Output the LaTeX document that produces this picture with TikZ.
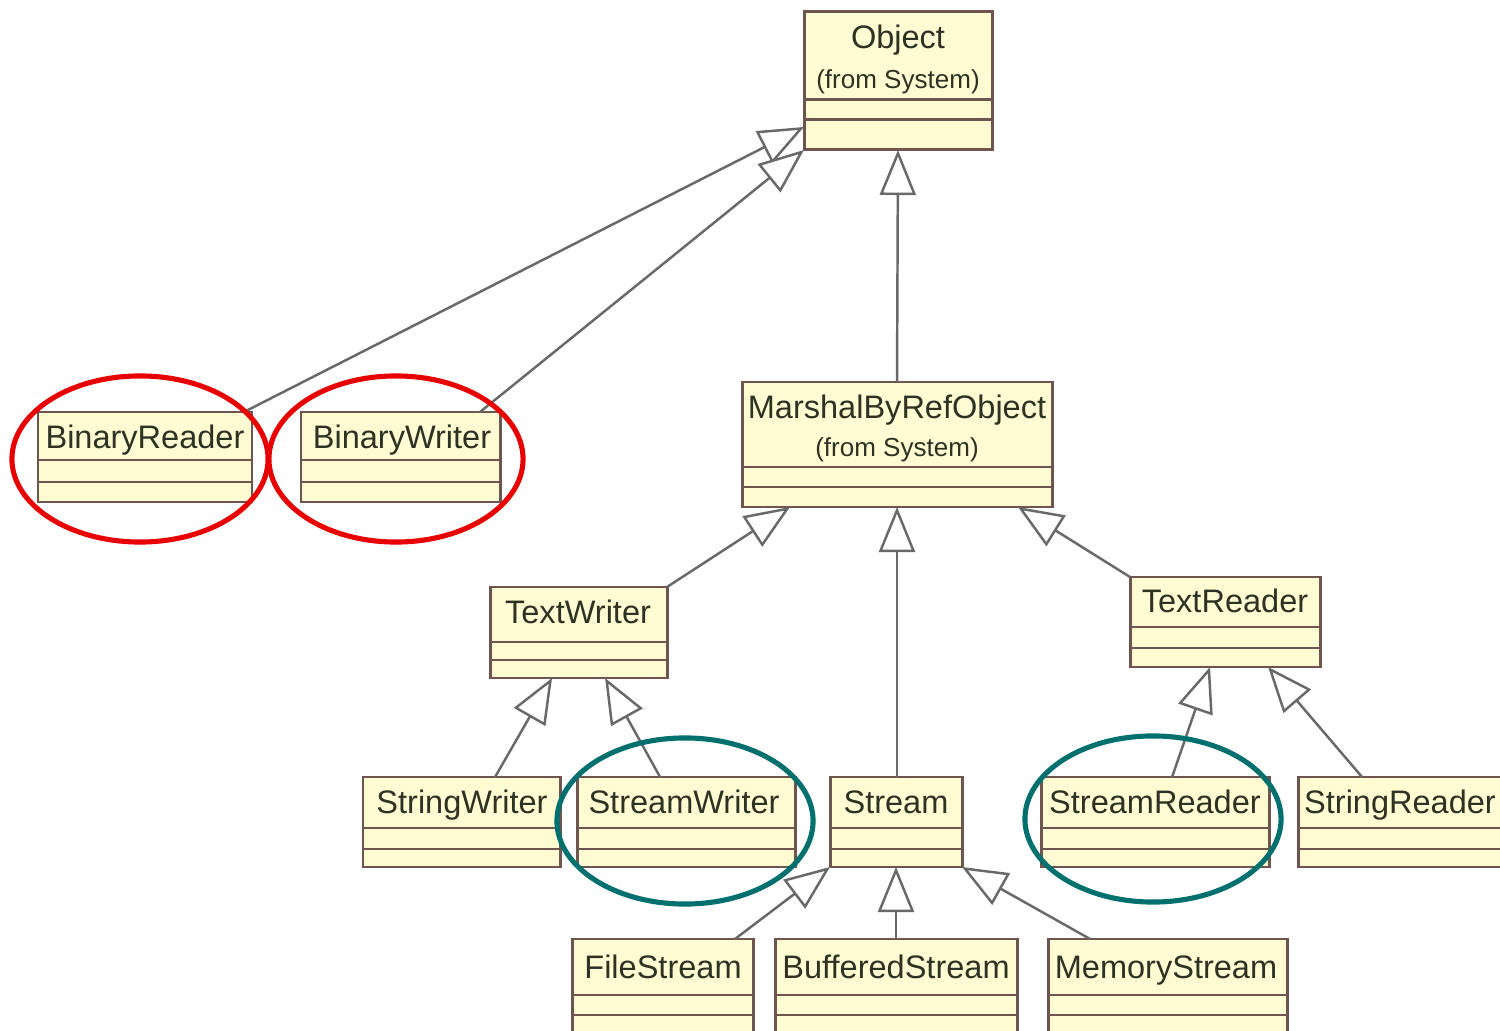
\documentclass[tikz,border=0pt]{standalone}
\usepackage{fontspec}
\setmainfont{Liberation Sans}
\usetikzlibrary{arrows.meta,shapes.geometric}
\definecolor{boxfill}{RGB}{255,251,210}
\definecolor{boxline}{RGB}{110,85,80}
\definecolor{conline}{RGB}{105,105,105}
\definecolor{txtcol}{RGB}{45,50,35}
\definecolor{ringred}{RGB}{232,0,0}
\definecolor{ringteal}{RGB}{0,112,110}
\tikzset{
  clsbox/.style={draw=boxline, fill=boxfill, line width=0.85pt, inner sep=0pt, outer sep=0pt, rectangle},
  divline/.style={draw=boxline, line width=0.85pt},
  clsname/.style={text=txtcol, inner sep=0pt, text height=0.72em, text depth=0.21em, font=\fontsize{9.25}{10}\selectfont},
  clsfrom/.style={text=txtcol, inner sep=0pt, text height=0.72em, text depth=0.21em, font=\fontsize{7.4}{8}\selectfont},
  inh/.style={draw=conline, line width=0.7pt, -{Triangle[open, length=0.45cm, width=0.36cm, fill=white]}},
  redring/.style={draw=ringred, line width=1.45pt, ellipse, inner sep=0pt, minimum width=2.56cm, minimum height=1.66cm},
  tealring/.style={draw=ringteal, line width=1.45pt, ellipse, inner sep=0pt, minimum width=2.56cm, minimum height=1.66cm},
}
% #1 name, #2 left, #3 top, #4 right, #5 bottom, #6 divider1, #7 divider2
\newcommand\umlclass[7]{%
  \node[clsbox, anchor=north west, minimum width={(#4-#2)*0.01cm}, minimum height={(#5-#3)*0.01cm}] (#1) at (#2,#3) {};
  \draw[divline] (#1.west |- 0,#6) -- (#1.east |- 0,#6);
  \draw[divline] (#1.west |- 0,#7) -- (#1.east |- 0,#7);
}
\begin{document}
\begin{tikzpicture}[x=0.01cm, y=-0.01cm]
\useasboundingbox (0,0) rectangle (1500,1031);
\fill[white] (0,0) rectangle (1500,1031);

% classes
\umlclass{obj}{804}{12}{992}{150}{100}{120}
\node[clsname] (objt) at (898,40) {Object};
\node[clsfrom] (objf) at (898,80) {(from System)};

\umlclass{mbr}{742}{382}{1052}{507}{467}{487}
\node[clsname] (mbrt) at (897,410) {MarshalByRefObject};
\node[clsfrom] (mbrf) at (897,448) {(from System)};

\umlclass{br}{38}{412}{252}{502}{460}{482}
\node[clsname] (brt) at (145,440) {BinaryReader};
\umlclass{bw}{301}{412}{500}{502}{460}{482}
\node[clsname] (bwt) at (402,440) {BinaryWriter};

\umlclass{tw}{490}{587}{667}{678}{642}{660}
\node[clsname] (twt) at (578,615) {TextWriter};
\umlclass{tr}{1130}{577}{1320}{667}{627}{648}
\node[clsname] (trt) at (1225,604) {TextReader};

\umlclass{sw}{363}{777}{560}{867}{828}{849}
\node[clsname] (swt) at (462,805) {StringWriter};
\umlclass{stw}{577}{777}{795}{867}{828}{849}
\node[clsname] (stwt) at (684,805) {StreamWriter};
\umlclass{st}{830}{777}{962}{867}{828}{849}
\node[clsname] (stt) at (896,805) {Stream};
\umlclass{sr}{1041}{777}{1269}{867}{828}{849}
\node[clsname] (srt) at (1155,805) {StreamReader};
\umlclass{str}{1298}{777}{1504}{867}{828}{849}
\node[clsname] (strt) at (1400,805) {StringReader};

\umlclass{fs}{572}{939}{753}{1040}{995}{1015}
\node[clsname] (fst) at (663,970) {FileStream};
\umlclass{bs}{775}{939}{1017}{1040}{995}{1015}
\node[clsname] (bst) at (896,970) {BufferedStream};
\umlclass{ms}{1048}{939}{1287}{1040}{995}{1015}
\node[clsname] (mst) at (1166,970) {MemoryStream};

% inheritance connectors
\draw[inh] ([xshift=-0.08cm]br.north east) -- ([yshift=0.23cm]obj.south west);
\draw[inh] ([xshift=-0.2cm]bw.north east) -- (obj.south west);
\draw[inh] (mbr.north) -- (obj.south);

\draw[inh] (tw.north east) -- ([xshift=0.48cm]mbr.south west);
\draw[inh] (st.north -| mbr.south) -- (mbr.south);
\draw[inh] (tr.north west) -- ([xshift=-0.34cm]mbr.south east);

\draw[inh] ([xshift=1.32cm]sw.north west) -- ([xshift=0.62cm]tw.south west);
\draw[inh] ([xshift=0.83cm]stw.north west) -- ([xshift=1.15cm]tw.south west);
\draw[inh] ([xshift=1.31cm]sr.north west) -- ([xshift=0.8cm]tr.south west);
\draw[inh] ([xshift=0.64cm]str.north west) -- ([xshift=1.38cm]tr.south west);

\draw[inh] ([xshift=-0.18cm]fs.north east) -- (st.south west);
\draw[inh] (bs.north -| st.south) -- (st.south);
\draw[inh] ([xshift=0.42cm]ms.north west) -- (st.south east);

% highlight rings
\node[redring] (ring1) at (140,459) {};
\node[redring, minimum width=2.54cm] (ring2) at (396,459) {};
\node[tealring] (ring3) at (685,821) {};
\node[tealring] (ring4) at (1153,819) {};
\end{tikzpicture}
\end{document}
